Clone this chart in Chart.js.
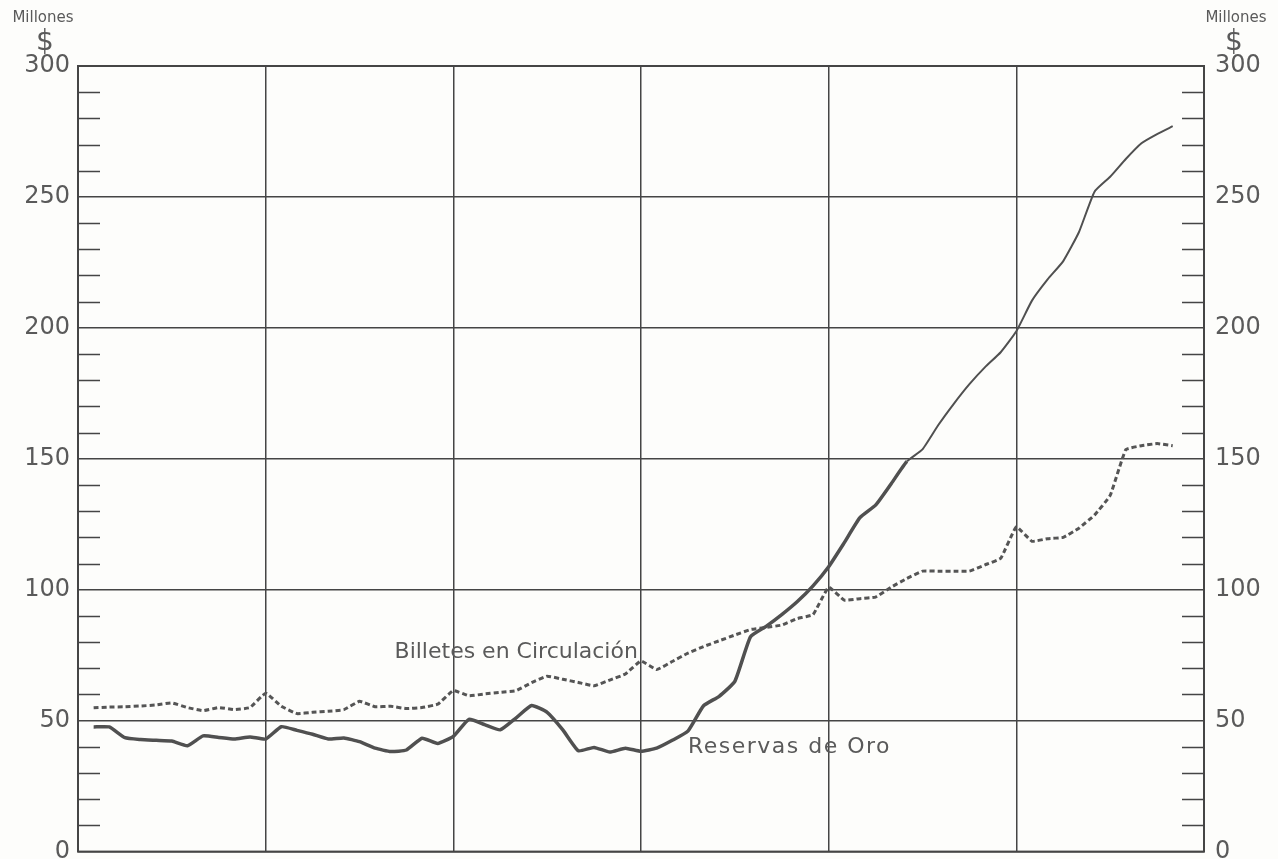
<!DOCTYPE html>
<html>
<head>
<meta charset="utf-8">
<script src="https://cdn.jsdelivr.net/npm/chart.js@4"></script>
<style>
  html, body { margin: 0; padding: 0; background: #fdfdfb; overflow: hidden; }
  #wrap { width: 1278px; height: 859px; overflow: hidden; }
</style>
</head>
<body>
<div id="wrap"><canvas id="chart" width="1278" height="874"></canvas></div>
<script>
// monthly observations, 6 years on the x axis (72 months)
const months = [1,2,3,4,5,6,7,8,9,10,11,12,13,14,15,16,17,18,19,20,21,22,23,24,25,26,27,28,29,30,
  31,32,33,34,35,36,37,38,39,40,41,42,43,44,45,46,47,48,49,50,51,52,53,54,55,56,57,58,59,60,
  61,62,63,64,65,66,67,68,69,70];

// Reservas de Oro (millones $)
const reservasOro = [47.6,47.6,43.5,42.8,42.5,42.2,40.4,44.2,43.6,43.0,43.8,43.0,47.7,46.3,44.8,43.0,43.4,42.0,39.5,38.2,
  38.8,43.3,41.3,44.0,50.5,48.5,46.5,51.0,55.8,53.2,46.5,38.5,39.8,38.0,39.5,38.3,39.5,42.5,46.0,55.7,
  59.3,65.0,82.0,86.0,90.5,95.5,101.5,108.8,118.0,127.5,132.3,140.5,149.0,153.6,162.8,171.0,178.5,185.0,190.7,198.7,
  210.4,218.5,225.5,236.5,252.0,257.7,264.5,270.5,274.0,277.0];

// Billetes en Circulación (millones $)
const billetes = [54.9,55.2,55.3,55.6,56.0,56.8,55.0,53.8,55.0,54.2,55.0,60.5,55.5,52.7,53.2,53.6,54.2,57.4,55.3,55.5,
  54.6,55.0,56.3,61.5,59.5,60.2,60.8,61.4,64.5,67.0,65.8,64.6,63.3,65.5,67.8,72.8,69.5,72.6,75.8,78.3,
  80.5,82.7,84.8,85.6,86.5,89.0,90.5,101.0,96.0,96.6,97.2,101.0,104.3,107.1,107.1,107.1,107.1,109.5,112.0,124.0,
  118.5,119.5,120.0,123.5,128.5,136.0,153.5,155.0,155.8,155.0];

const yMin = 0, yMax = 300, yMajor = 50, yMinor = 10;
const ink = '#454545';
const textInk = '#5a5a5a';
const font = '"DejaVu Sans", sans-serif';

// frame, inside minor ticks, axis captions and series labels
const decor = {
  id: 'decor',
  afterDraw(chart) {
    const ctx = chart.ctx;
    const a = chart.chartArea;
    const y = chart.scales.y;
    const x = chart.scales.x;
    ctx.save();
    ctx.strokeStyle = ink;
    ctx.lineWidth = 2;
    ctx.strokeRect(a.left, a.top, a.right - a.left, a.bottom - a.top);

    ctx.lineWidth = 1.5;
    for (let v = yMin + yMinor; v < yMax; v += yMinor) {
      if (v % yMajor === 0) continue;
      const py = Math.round(y.getPixelForValue(v)) + 0.5;
      ctx.beginPath();
      ctx.moveTo(a.left, py); ctx.lineTo(a.left + 22, py);
      ctx.moveTo(a.right - 22, py); ctx.lineTo(a.right, py);
      ctx.stroke();
    }

    ctx.fillStyle = textInk;
    ctx.textAlign = 'center';
    ctx.textBaseline = 'middle';
    ctx.font = '15px ' + font;
    ctx.fillText('Millones', a.left - 35, 18);
    ctx.fillText('Millones', a.right + 32, 18);
    ctx.font = '28px ' + font;
    ctx.fillText('$', a.left - 33, 43);
    ctx.fillText('$', a.right + 30, 43);

    ctx.font = '22px ' + font;
    ctx.textAlign = 'right';
    ctx.fillText('Billetes en Circulación', x.getPixelForValue(35.8), y.getPixelForValue(76));
    ctx.textAlign = 'left';
    ctx.letterSpacing = '1.5px';
    ctx.fillText('Reservas de Oro', x.getPixelForValue(39), y.getPixelForValue(40));
    ctx.restore();
  }
};

const yTicks = {
  stepSize: yMinor,
  autoSkip: false,
  color: textInk,
  font: { family: font, size: 24 },
  callback: v => (v % yMajor === 0 ? String(v) : '')
};
const yGrid = {
  drawTicks: false,
  color: c => (c.tick && c.tick.value % yMajor === 0 ? ink : 'rgba(0,0,0,0)'),
  lineWidth: 1.5
};

new Chart(document.getElementById('chart'), {
  type: 'line',
  data: {
    datasets: [
      {
        label: 'Reservas de Oro',
        data: months.map((m, i) => ({ x: m, y: reservasOro[i] })),
        borderColor: '#505050',
        borderWidth: 3.5,
        segment: { borderWidth: c => (c.p1.parsed.y > 150 ? 2 : 3.5) },
        pointRadius: 0,
        tension: 0.15,
        fill: false
      },
      {
        label: 'Billetes en Circulación',
        data: months.map((m, i) => ({ x: m, y: billetes[i] })),
        borderColor: '#555555',
        borderWidth: 3,
        borderDash: [5, 3],
        pointRadius: 0,
        tension: 0.1,
        fill: false
      }
    ]
  },
  options: {
    responsive: false,
    animation: false,
    layout: { padding: { top: 66, bottom: 6, left: 0, right: 0 } },
    plugins: { legend: { display: false }, tooltip: { enabled: false } },
    scales: {
      x: {
        type: 'linear',
        min: 0,
        max: 72,
        ticks: { display: false, stepSize: 12 },
        grid: { color: ink, lineWidth: 1.5, drawTicks: false },
        border: { display: false },
        afterFit: s => { s.height = 0; }
      },
      y: {
        position: 'left',
        min: yMin,
        max: yMax,
        ticks: Object.assign({ padding: 8 }, yTicks),
        grid: yGrid,
        border: { display: false },
        afterFit: s => { s.width = 78; }
      },
      y2: {
        position: 'right',
        min: yMin,
        max: yMax,
        ticks: Object.assign({ padding: 3 }, yTicks),
        grid: { display: false },
        border: { display: false },
        afterFit: s => { s.width = 74; }
      }
    }
  },
  plugins: [decor]
});
</script>
</body>
</html>
